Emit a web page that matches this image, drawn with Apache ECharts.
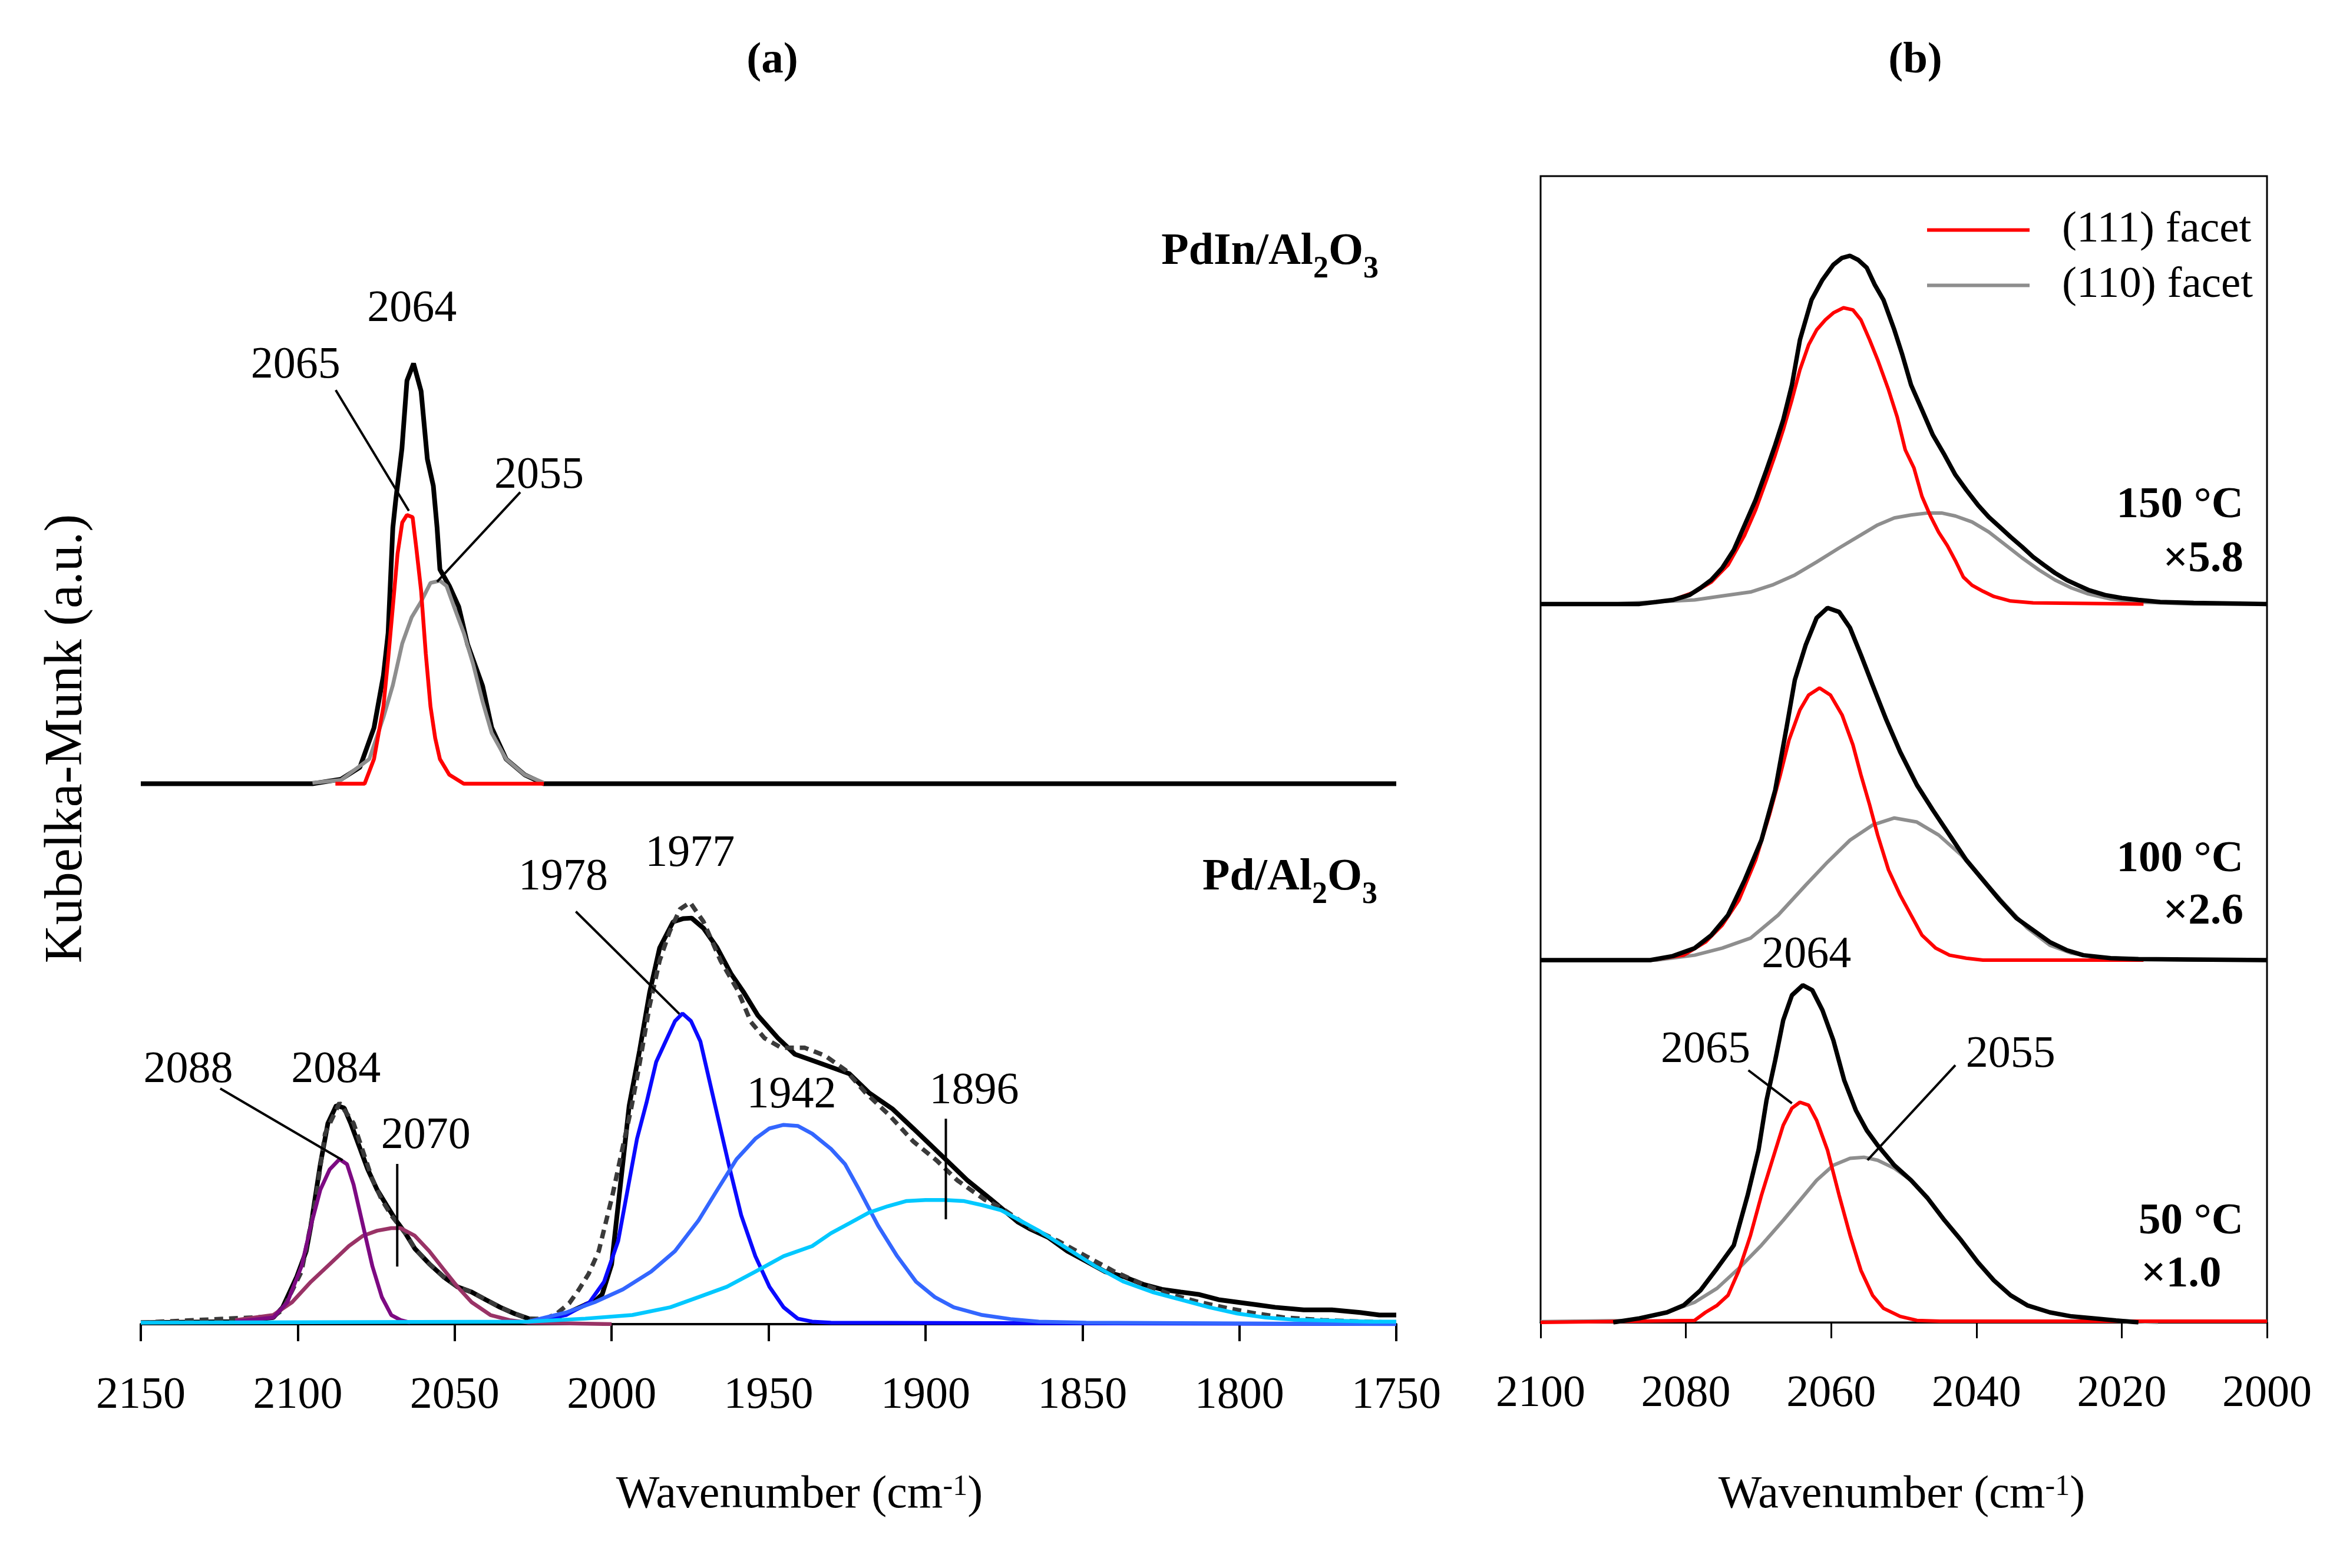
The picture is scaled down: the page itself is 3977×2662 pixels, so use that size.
<!DOCTYPE html>
<html>
<head>
<meta charset="utf-8">
<script src="https://cdn.jsdelivr.net/npm/echarts@6/dist/echarts.min.js"></script>
<style>
  html, body { margin: 0; padding: 0; background: #fff; }
  #chart { width: 3977px; height: 2662px; }
</style>
</head>
<body>
<div id="chart"></div>
<script>
// ---- panel (a): PdIn/Al2O3 (stacked above), values relative to its own baseline
const pdinOffset = 3.62;
const pdinTotal = [[2150,0],[2095.3,0],[2086.2,0.03],[2080.2,0.11],[2075.7,0.375],[2072.7,0.725],[2071.2,1.01],[2069.7,1.715],[2068.8,1.895],[2066.8,2.245],[2065.2,2.70],[2063.1,2.815],[2060.7,2.63],[2058.7,2.175],[2056.8,1.995],[2055.6,1.715],[2054.7,1.435],[2051.7,1.325],[2048.7,1.185],[2045.9,0.935],[2041.1,0.655],[2038.2,0.375],[2033.6,0.165],[2027.7,0.06],[2021.6,0],[1750,0]];
const pdinFacet111 = [[2088,0],[2078.7,0],[2075.7,0.165],[2072.7,0.517],[2071.2,0.835],[2069.7,1.185],[2068.2,1.54],[2066.7,1.75],[2065.2,1.80],[2063.4,1.785],[2062.2,1.575],[2060.7,1.295],[2059.2,0.87],[2057.7,0.517],[2056.2,0.305],[2054.7,0.165],[2051.7,0.06],[2047.1,0],[2021.6,0]];
const pdinFacet110 = [[2095.3,0.006],[2086.2,0.025],[2077.2,0.165],[2072.7,0.445],[2069.7,0.66],[2066.7,0.94],[2063.7,1.115],[2060.7,1.22],[2057.7,1.345],[2054.7,1.36],[2052.6,1.325],[2050.2,1.185],[2047.1,1.01],[2044.1,0.80],[2041.1,0.55],[2038.2,0.34],[2033.6,0.165],[2027.7,0.06],[2021.6,0.006]];

// ---- panel (a): Pd/Al2O3
const pdTotal = [[2150,0.01],[2119.9,0.017],[2107.8,0.044],[2104.8,0.113],[2100.3,0.318],[2097.3,0.489],[2095.8,0.66],[2092.8,1.071],[2090.4,1.345],[2087.7,1.465],[2085.2,1.448],[2083.1,1.345],[2080.7,1.208],[2077.7,1.037],[2074.7,0.900],[2071.7,0.797],[2068.7,0.695],[2065.7,0.609],[2062.7,0.506],[2058.1,0.404],[2053.6,0.318],[2049.1,0.250],[2044.6,0.215],[2040.1,0.164],[2035.5,0.113],[2031.0,0.071],[2026.5,0.037],[2022.0,0.027],[2017.5,0.044],[2013.0,0.085],[2008.4,0.130],[2005,0.16],[2003,0.20],[2000,0.40],[1997.6,0.856],[1994.4,1.463],[1991.1,1.83],[1987.9,2.22],[1984.7,2.52],[1980.4,2.695],[1977.1,2.717],[1974.5,2.72],[1970.7,2.652],[1966.4,2.522],[1962.0,2.349],[1957.8,2.219],[1953.4,2.068],[1947.0,1.916],[1941.6,1.808],[1932.9,1.743],[1924.3,1.678],[1917.9,1.548],[1910.4,1.44],[1903.9,1.311],[1894.2,1.116],[1886.7,0.964],[1879.1,0.835],[1870.5,0.683],[1866.9,0.640],[1860.8,0.580],[1854.8,0.489],[1848.8,0.421],[1842.8,0.352],[1836.8,0.318],[1830.7,0.267],[1824.7,0.233],[1818.7,0.215],[1812.7,0.198],[1806.6,0.164],[1800.6,0.147],[1794.6,0.130],[1788.6,0.113],[1779.5,0.096],[1770.5,0.096],[1761.5,0.078],[1755.4,0.061],[1750,0.061]];
const pdFit = [[2150,0.010],[2107.8,0.051],[2104.8,0.096],[2098.8,0.352],[2094.3,0.832],[2091.3,1.276],[2086.7,1.482],[2082.2,1.345],[2076.2,0.968],[2073.2,0.832],[2070.2,0.729],[2065.7,0.609],[2062.7,0.506],[2058.1,0.404],[2053.6,0.318],[2049.1,0.250],[2044.6,0.215],[2040.1,0.164],[2035.5,0.113],[2031.0,0.071],[2026.5,0.037],[2021.3,0.034],[2017.5,0.070],[2013.5,0.140],[2010.5,0.229],[2007.3,0.337],[2004.1,0.489],[1999.8,0.856],[1996.5,1.181],[1993.8,1.44],[1991.1,1.743],[1987.9,2.132],[1984.7,2.435],[1981.5,2.630],[1978.2,2.78],[1975.0,2.825],[1970.7,2.695],[1965.3,2.435],[1959.9,2.24],[1955.6,2.024],[1951.3,1.916],[1945.9,1.851],[1938.4,1.851],[1931.9,1.797],[1925.4,1.70],[1919.0,1.548],[1911.4,1.397],[1903.9,1.224],[1896.3,1.094],[1889.9,0.964],[1881.2,0.835],[1875.9,0.780],[1866.9,0.650],[1857.8,0.558],[1848.8,0.455],[1839.8,0.352],[1830.7,0.267],[1821.7,0.198],[1812.7,0.147],[1803.6,0.106],[1794.6,0.071],[1785.6,0.044],[1773.5,0.027],[1761.5,0.017],[1750,0.010]];
const pd2088 = [[2119.9,0.017],[2107.8,0.044],[2103.3,0.147],[2098.8,0.387],[2095.8,0.66],[2092.8,0.900],[2089.8,1.037],[2086.7,1.105],[2084.3,1.071],[2082.2,0.934],[2079.2,0.660],[2076.2,0.387],[2073.2,0.181],[2070.2,0.061],[2067.2,0.027],[2064.2,0.010]];
const pd2070 = [[2119.9,0.027],[2107.8,0.061],[2101.8,0.147],[2095.8,0.284],[2089.7,0.404],[2083.7,0.523],[2079.2,0.592],[2074.7,0.626],[2070.2,0.643],[2067.2,0.643],[2062.7,0.592],[2058.1,0.489],[2053.6,0.369],[2049.1,0.250],[2044.6,0.147],[2038.6,0.061],[2032.5,0.027],[2026.5,0.010],[2000,0]];
const pd1978 = [[2026.5,0.017],[2014.5,0.061],[2007.0,0.147],[2002.4,0.284],[1997.9,0.558],[1994.9,0.900],[1991.9,1.242],[1988.9,1.482],[1985.8,1.756],[1982.8,1.893],[1979.8,2.030],[1977.4,2.081],[1974.7,2.030],[1971.7,1.893],[1968.7,1.619],[1965.7,1.345],[1962.7,1.071],[1958.7,0.729],[1954.2,0.455],[1949.7,0.250],[1945.2,0.113],[1940.7,0.037],[1936.1,0.017],[1930.1,0.010],[1750,0]];
const pd1942 = [[2026.5,0.017],[2014.5,0.078],[2005.4,0.147],[1996.4,0.233],[1987.4,0.352],[1979.8,0.489],[1972.3,0.695],[1966.3,0.900],[1960.2,1.105],[1954.2,1.242],[1949.7,1.311],[1945.2,1.335],[1940.7,1.328],[1936.1,1.276],[1930.1,1.174],[1925.6,1.071],[1921.1,0.900],[1915.1,0.660],[1909.0,0.455],[1903.0,0.284],[1897.0,0.181],[1891.0,0.113],[1881.9,0.061],[1872.9,0.034],[1863.9,0.017],[1848.8,0.010],[1750,0]];
const pd1896 = [[2150,0.010],[2026.5,0.017],[2008.4,0.037],[1993.4,0.061],[1981.3,0.113],[1972.3,0.181],[1963.3,0.250],[1954.2,0.352],[1945.2,0.455],[1936.1,0.523],[1930.1,0.609],[1924.1,0.677],[1918.1,0.746],[1912.0,0.790],[1906.0,0.825],[1900.0,0.832],[1894.0,0.832],[1887.9,0.825],[1881.9,0.797],[1875.9,0.763],[1869.9,0.695],[1863.9,0.626],[1854.8,0.506],[1845.8,0.387],[1836.8,0.284],[1827.7,0.215],[1818.7,0.164],[1809.6,0.113],[1800.6,0.071],[1791.6,0.044],[1782.5,0.030],[1770.5,0.024],[1758.5,0.017],[1750,0.017]];

// ---- panel (b): temperature series, each relative to its own baseline
const tempLabels = ['50 °C', '100 °C', '150 °C'];
const tempScales = ['×1.0', '×2.6', '×5.8'];
const tempOffsets = [0, 2.424, 4.807];
const b50Total = [[2090,0],[2086.4,0.027],[2082.6,0.067],[2080.3,0.114],[2078.0,0.214],[2075.7,0.362],[2073.4,0.516],[2071.5,0.850],[2070.0,1.152],[2068.9,1.486],[2067.7,1.754],[2066.6,2.022],[2065.4,2.189],[2063.9,2.256],[2062.6,2.223],[2061.2,2.089],[2059.7,1.888],[2058.2,1.620],[2056.6,1.419],[2055.1,1.285],[2053.6,1.185],[2051.3,1.051],[2049.0,0.951],[2046.7,0.830],[2044.4,0.683],[2042.1,0.549],[2039.8,0.402],[2037.6,0.281],[2035.3,0.181],[2033.0,0.114],[2029.9,0.067],[2026.9,0.040],[2023.8,0.027],[2020.8,0.013],[2017.7,0]];
const b50F111 = [[2100,0],[2078.8,0.013],[2077.3,0.067],[2075.7,0.114],[2074.2,0.181],[2072.7,0.348],[2071.1,0.583],[2069.6,0.850],[2068.1,1.085],[2066.6,1.319],[2065.4,1.433],[2064.3,1.473],[2063.1,1.453],[2062.0,1.352],[2060.5,1.152],[2058.9,0.850],[2057.4,0.583],[2055.9,0.348],[2054.3,0.181],[2052.8,0.094],[2050.5,0.040],[2048.2,0.013],[2045,0.008],[2000,0.008]];
const b50F110 = [[2100,0.005],[2087.2,0.013],[2082.6,0.067],[2078.8,0.134],[2075.7,0.228],[2072.7,0.362],[2069.6,0.516],[2066.6,0.683],[2064.3,0.817],[2062.0,0.951],[2059.7,1.051],[2057.4,1.098],[2055.5,1.105],[2053.6,1.085],[2051.3,1.031],[2049.0,0.951],[2046.7,0.830],[2044.4,0.683],[2042.1,0.549],[2039.8,0.402],[2037.6,0.281],[2035.3,0.181],[2033.0,0.114],[2029.9,0.067],[2026.9,0.040],[2023.8,0.027],[2020.8,0.013],[2015,0]];
const b100Total = [[2100,0],[2084.9,0],[2081.8,0.027],[2078.8,0.080],[2076.5,0.167],[2074.2,0.301],[2071.9,0.536],[2069.6,0.803],[2067.7,1.138],[2066.2,1.540],[2065.0,1.875],[2063.5,2.109],[2062.0,2.290],[2060.5,2.357],[2058.9,2.330],[2057.4,2.223],[2055.9,2.042],[2054.3,1.841],[2052.4,1.607],[2050.5,1.393],[2048.2,1.172],[2046.0,1.004],[2043.7,0.837],[2041.4,0.670],[2039.1,0.536],[2036.8,0.402],[2034.5,0.281],[2032.2,0.201],[2029.9,0.121],[2027.6,0.067],[2025.3,0.033],[2021.5,0.013],[2017.7,0.007],[2000,0]];
const b100F111 = [[2100,0],[2084.9,0],[2080.3,0.033],[2077.3,0.121],[2075.0,0.234],[2072.7,0.402],[2070.4,0.670],[2068.5,0.971],[2067.0,1.239],[2065.8,1.473],[2064.3,1.674],[2063.1,1.774],[2061.6,1.821],[2060.1,1.774],[2058.5,1.641],[2057.0,1.440],[2055.9,1.239],[2054.7,1.038],[2053.6,0.837],[2052.1,0.603],[2050.5,0.435],[2049.0,0.301],[2047.5,0.167],[2045.6,0.080],[2043.7,0.033],[2041.4,0.013],[2039.1,0],[2017,0]];
const b100F110 = [[2100,0],[2084.1,0],[2078.8,0.033],[2075.0,0.080],[2071.1,0.147],[2067.3,0.301],[2063.5,0.502],[2060.5,0.656],[2057.4,0.803],[2054.3,0.904],[2051.3,0.951],[2048.2,0.924],[2045.2,0.837],[2042.1,0.703],[2039.1,0.536],[2036.0,0.368],[2033.0,0.214],[2029.9,0.100],[2026.9,0.047],[2023.8,0.020],[2017.7,0.007],[2010.1,0],[2000,0]];
const b150Total = [[2100,0],[2086.4,0],[2084.1,0.013],[2081.8,0.027],[2079.5,0.060],[2078.0,0.107],[2076.5,0.161],[2075.0,0.241],[2073.4,0.362],[2071.9,0.529],[2070.4,0.696],[2068.9,0.897],[2067.7,1.065],[2066.6,1.232],[2065.4,1.466],[2064.3,1.767],[2062.7,2.035],[2061.2,2.169],[2059.7,2.270],[2058.5,2.316],[2057.4,2.330],[2056.3,2.303],[2055.1,2.250],[2054.0,2.136],[2052.8,2.035],[2051.3,1.834],[2050.2,1.667],[2049.0,1.466],[2047.5,1.299],[2046.0,1.131],[2044.4,0.998],[2042.9,0.864],[2041.4,0.763],[2039.8,0.663],[2038.3,0.582],[2036.8,0.516],[2035.3,0.449],[2033.7,0.382],[2032.2,0.315],[2030.7,0.261],[2029.2,0.208],[2027.6,0.161],[2026.1,0.127],[2024.6,0.094],[2022.3,0.060],[2020.0,0.040],[2017.7,0.027],[2014.7,0.013],[2010.1,0.007],[2000,0]];
const b150F111 = [[2100,0],[2086.4,0],[2081.8,0.027],[2078.8,0.080],[2076.5,0.147],[2074.2,0.261],[2071.9,0.462],[2070.4,0.629],[2068.9,0.830],[2067.7,0.998],[2066.6,1.165],[2065.4,1.366],[2064.3,1.567],[2063.1,1.734],[2062.0,1.834],[2060.8,1.901],[2059.7,1.948],[2058.3,1.982],[2057.0,1.968],[2055.9,1.901],[2054.7,1.767],[2053.6,1.634],[2052.1,1.433],[2050.9,1.250],[2049.8,1.031],[2048.6,0.910],[2047.5,0.720],[2046.3,0.585],[2045.2,0.480],[2044.0,0.390],[2042.9,0.290],[2041.8,0.180],[2040.6,0.125],[2039.1,0.085],[2037.6,0.050],[2035.3,0.020],[2032.2,0.007],[2017,0]];
const b150F110 = [[2100,0],[2090.2,0],[2078.8,0.027],[2075.0,0.054],[2071.1,0.080],[2068.1,0.127],[2065.0,0.194],[2062.0,0.281],[2058.9,0.375],[2055.9,0.462],[2053.6,0.529],[2051.3,0.576],[2049.0,0.596],[2046.7,0.609],[2044.8,0.609],[2042.9,0.589],[2040.6,0.549],[2038.3,0.482],[2036.0,0.395],[2033.7,0.308],[2031.4,0.228],[2029.2,0.161],[2026.9,0.107],[2024.6,0.067],[2021.5,0.033],[2017.7,0.013],[2010.1,0],[2000,0]];

// ---- annotations (peak positions written on the plot)
const peakTextA = [['2064',2063.6,6.80],['2065',2100.7,6.42],['2055',2023.1,5.68],['2088',2134.9,1.70],['2084',2087.8,1.70],['2070',2059.2,1.26],['1978',2015.4,2.99],['1977',1975.0,3.15],['1942',1942.7,1.53],['1896',1884.5,1.56]];
const leadersA = [[[2087.9,6.257],[2064.6,5.448]],[[2029.1,5.573],[2055.6,4.973]],[[2124.7,1.578],[2085.7,1.098]],[[2068.3,1.073],[2068.3,0.386]],[[2011.4,2.764],[1978.4,2.078]],[[1893.5,1.376],[1893.5,0.702]]];
const peakTextB = [['2064',2063.4,2.457],['2065',2077.3,1.821],['2055',2035.3,1.788]];
const leadersB = [[[2071.4,1.687],[2065.4,1.466]],[[2042.9,1.721],[2055.0,1.085]]];

const FONT = '"Liberation Serif", "Times New Roman", serif';
const shift = (arr, dy) => arr.map(p => [p[0], p[1] + dy]);

const curve = (name, data, color, width, idx, extra) => Object.assign({
    name: name,
    type: 'line',
    xAxisIndex: idx,
    yAxisIndex: idx,
    data: data,
    showSymbol: false,
    symbol: 'none',
    silent: true,
    itemStyle: { color: color },
    lineStyle: { color: color, width: width }
}, extra || {});

const textSeries = (list, idx) => ({
    type: 'scatter',
    xAxisIndex: idx,
    yAxisIndex: idx,
    symbolSize: 0,
    silent: true,
    itemStyle: { color: '#000', opacity: 1 },
    label: {
        show: true,
        position: [0, 0],
        align: 'center',
        verticalAlign: 'middle',
        formatter: '{b}',
        color: '#000',
        opacity: 1,
        textBorderWidth: 0,
        fontFamily: FONT,
        fontSize: 76
    },
    data: list.map(t => ({ name: t[0], value: [t[1], t[2]] }))
});

const leaderSeries = (list, idx) => list.map(seg => curve('', seg, '#000', 4, idx));

const C = {
    red: '#ff0000', gray: '#8e8e8e', purple: '#7d0a82', maroon: '#993366',
    blue: '#0a0aff', mblue: '#3366ff', cyan: '#00c8ff', dash: '#3a3a3a'
};

const series = [
    // (a) PdIn/Al2O3
    curve('pdin', shift(pdinTotal, pdinOffset), '#000', 8, 0),
    curve('pdin110', shift(pdinFacet110, pdinOffset), C.gray, 6.5, 0),
    curve('pdin111', shift(pdinFacet111, pdinOffset), C.red, 6.5, 0),
    // (a) Pd/Al2O3
    curve('pd', pdTotal, '#000', 8, 0),
    curve('fit', pdFit, C.dash, 7.5, 0, { lineStyle: { color: C.dash, width: 7.5, type: [15, 10] } }),
    curve('2070', pd2070, C.maroon, 6.5, 0),
    curve('2088', pd2088, C.purple, 6.5, 0),
    curve('1978', pd1978, C.blue, 6.5, 0),
    curve('1942', pd1942, C.mblue, 6.5, 0),
    curve('1896', pd1896, C.cyan, 6.5, 0),
    textSeries(peakTextA, 0)
].concat(leaderSeries(leadersA, 0));

const bSets = [
    [b50F110, b50F111, b50Total],
    [b100F110, b100F111, b100Total],
    [b150F110, b150F111, b150Total]
];
bSets.forEach((set, i) => {
    series.push(curve('(110) facet', shift(set[0], tempOffsets[i]), C.gray, 6, 1));
    series.push(curve('(111) facet', shift(set[1], tempOffsets[i]), C.red, 6, 1));
    series.push(curve('total ' + tempLabels[i], shift(set[2], tempOffsets[i]), '#000', 7.5, 1));
});
series.push(textSeries(peakTextB, 1));
leaderSeries(leadersB, 1).forEach(s => series.push(s));

const axisLabel = { color: '#000', fontFamily: FONT, fontSize: 76, margin: 84, formatter: v => String(v) };

const txt = (x, y, text, size, weight, align, extra) => ({
    type: 'text',
    x: x,
    y: y,
    silent: true,
    style: Object.assign({
        text: text,
        fill: '#000',
        fontFamily: FONT,
        fontSize: size,
        fontWeight: weight,
        align: align,
        verticalAlign: 'middle',
        textAlign: align,
        textVerticalAlign: 'middle'
    }, extra || {})
});

const subRich = {
    m: { fontFamily: FONT, fontSize: 76, fontWeight: 'bold', lineHeight: 76, verticalAlign: 'middle', color: '#000' },
    s: { fontFamily: FONT, fontSize: 52, fontWeight: 'bold', lineHeight: 52, padding: [60, 0, 0, 0], color: '#000' }
};
const supRich = {
    n: { fontFamily: FONT, fontSize: 78, lineHeight: 78, verticalAlign: 'middle', color: '#000' },
    p: { fontFamily: FONT, fontSize: 50, lineHeight: 50, verticalAlign: 'top', color: '#000' }
};

const graphics = [
    txt(1311, 104, '(a)', 75, 'bold', 'center'),
    txt(3251, 104, '(b)', 75, 'bold', 'center'),
    txt(2340, 390, '{m|PdIn/Al}{s|2}{m|O}{s|3}', 76, 'bold', 'right', { rich: subRich, verticalAlign: 'top', textVerticalAlign: 'top' }),
    txt(2338, 1452, '{m|Pd/Al}{s|2}{m|O}{s|3}', 76, 'bold', 'right', { rich: subRich, verticalAlign: 'top', textVerticalAlign: 'top' }),
    Object.assign(txt(114, 1254, 'Kubelka-Munk (a.u.)', 90, 'normal', 'center'), { rotation: Math.PI / 2 }),
    txt(1357, 2500, '{n|Wavenumber (cm}{p|-1}{n|)}', 78, 'normal', 'center', { rich: supRich, verticalAlign: 'top', textVerticalAlign: 'top' }),
    txt(3228, 2500, '{n|Wavenumber (cm}{p|-1}{n|)}', 78, 'normal', 'center', { rich: supRich, verticalAlign: 'top', textVerticalAlign: 'top' }),
    txt(3808, 859, tempLabels[2], 75, 'bold', 'right'),
    txt(3808, 951, tempScales[2], 75, 'bold', 'right'),
    txt(3808, 1460, tempLabels[1], 75, 'bold', 'right'),
    txt(3808, 1549, tempScales[1], 75, 'bold', 'right'),
    txt(3808, 2075, tempLabels[0], 75, 'bold', 'right'),
    txt(3634, 2165, tempScales[0], 75, 'bold', 'left')
];

const chart = echarts.init(document.getElementById('chart'));
chart.setOption({
    animation: false,
    backgroundColor: '#fff',
    grid: [
        { left: 239, right: 1607, top: 299, bottom: 414 },
        { left: 2615, right: 129, top: 299, bottom: 417, show: true, borderColor: '#000', borderWidth: 3 }
    ],
    xAxis: [
        {
            type: 'value', gridIndex: 0, min: 1750, max: 2150, interval: 50, inverse: true,
            axisLine: { show: true, onZero: false, lineStyle: { color: '#000', width: 4 } },
            axisTick: { show: true, inside: false, length: 29, lineStyle: { color: '#000', width: 4 } },
            axisLabel: axisLabel,
            splitLine: { show: false }
        },
        {
            type: 'value', gridIndex: 1, min: 2000, max: 2100, interval: 20, inverse: true,
            axisLine: { show: true, onZero: false, lineStyle: { color: '#000', width: 3 } },
            axisTick: { show: true, inside: false, length: 27, lineStyle: { color: '#000', width: 3 } },
            axisLabel: axisLabel,
            splitLine: { show: false }
        }
    ],
    yAxis: [
        { type: 'value', gridIndex: 0, min: 0, max: 7.69, show: false },
        { type: 'value', gridIndex: 1, min: 0, max: 7.67, show: false }
    ],
    legend: {
        data: ['(111) facet', '(110) facet'],
        orient: 'vertical',
        left: 3266,
        top: 348,
        icon: 'rect',
        itemWidth: 174,
        itemHeight: 6,
        itemGap: 19,
        selectedMode: false,
        textStyle: { color: '#000', fontFamily: FONT, fontSize: 75, lineHeight: 75, padding: [0, 0, 0, 50] }
    },
    graphic: graphics,
    series: series
});
</script>
</body>
</html>
